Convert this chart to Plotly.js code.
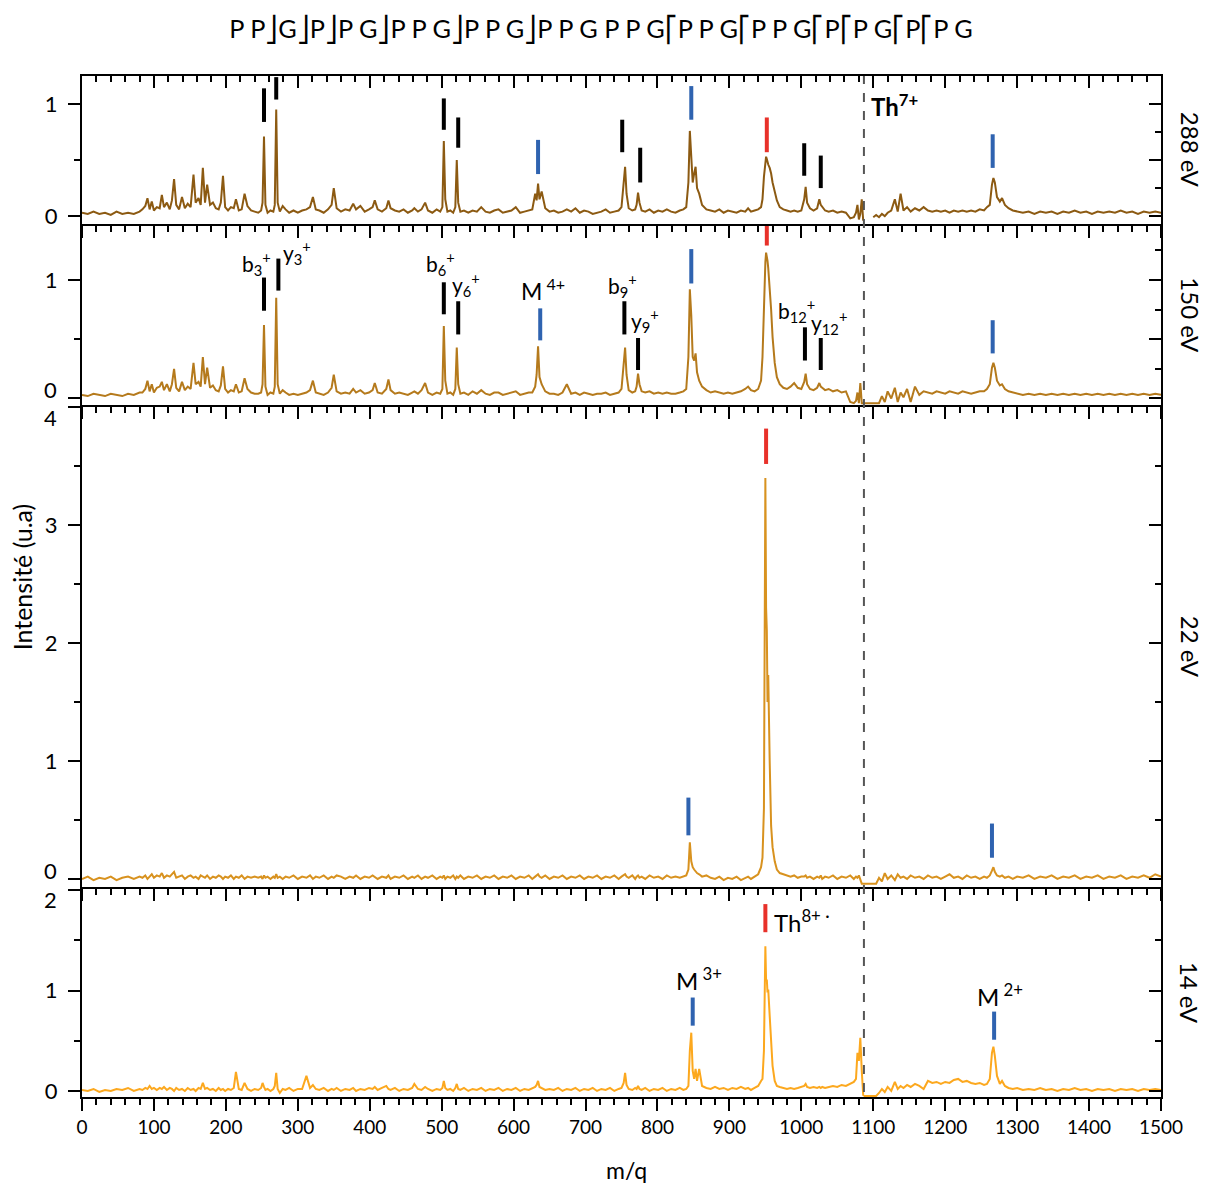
<!DOCTYPE html>
<html>
<head>
<meta charset="utf-8">
<script src="https://cdn.plot.ly/plotly-3.0.1.min.js"></script>
<style>html,body{margin:0;padding:0;background:#fff;}</style>
</head>
<body>
<div id="chart" style="width:1214px;height:1189px;"></div>
<script>
// ---------- DATA ----------
// m/q sampling positions (segments), shared by the four spectra
const mzSegments = [
 [0,8,16,24,32,40,48,56,64,72,80],
 [84,88,91,94,97,100,104,108,111,114,118,122,125,128,131,135,139,143,147,151,155,158,162,165,168,171,174,178,182,186,190,193,196,199,203,207,211,214,218,222,226,230,235,240],
 [245,249,251,253,255,258,262,266,268,270,272,275,279,283,288,294,300],
 [306,312,317,321,325,330,336,342,347,350,354,360,366,372,377,381,387,393,399,404,407,411,417,423,426,429,435,441,447,453,459,462,467,472,477,481,487,493,498],
 [501,503,505,508,512,516,519,521,523,526,531,537,543,549,555,561,567,573,579,585,591,597,603,609,615,621,626,630,632,634,636,639,644,650],
 [656,662,668,674,680,686,692,698,704,710,716,722,728,734,740,746,750,753,755,757,760,765,769,771,773,775,778,783,789,795,801,807,813,819,825,831,836,840],
 [843,845,847,849,851,853,855,858,862,868,874,880,886,892,898,904,910,916,922,926,930,935,940,944,946,948,950,951,952,953,954,956,958,960,963,966,970,975,980,985,990,995,1000],
 [1004,1006,1008,1012,1017,1022,1025,1027,1029,1033,1038,1044,1050,1056,1062,1068,1073,1076,1078,1080,1082,1084,1086,1088],
 [1092,1096,1100,1104,1108,1112,1116,1120,1125,1130,1134,1138,1142,1147,1152,1158,1164,1170,1176,1182,1188,1194,1200,1206,1212,1218,1224,1230,1236,1242,1248],
 [1254,1258,1262,1265,1267,1269,1272,1276,1279,1283,1288,1294,1300,1308,1316,1324,1332,1340,1348,1356,1364,1372,1380,1388,1396,1404,1412,1420,1428,1436,1444,1452,1460,1468,1476,1484,1492,1500]
];

// Intensities, 288 eV
const int288 = [
 [0.03,0.02,0.04,0.02,0.03,0.01,0.04,0.02,0.03,0.02,0.04],
 [0.06,0.09,0.16,0.06,0.13,0.05,0.08,0.07,0.19,0.08, 0.12,0.06,0.14,0.33,0.10,0.06,0.17,0.07,0.11,0.08, 0.37,0.12,0.16,0.10,0.43,0.12,0.28,0.10,0.12,0.07, 0.06,0.12,0.36,0.08,0.05,0.08,0.07,0.15,0.05,0.06, 0.20,0.09,0.05,0.04],
 [0.03,0.05,0.12,0.71,0.10,0.03,0.05,0.04,0.10,0.95, 0.12,0.04,0.09,0.06,0.03,0.05,0.03],
 [0.05,0.06,0.08,0.17,0.06,0.05,0.03,0.06,0.10,0.25, 0.07,0.04,0.06,0.05,0.11,0.06,0.09,0.04,0.06,0.08, 0.14,0.06,0.04,0.07,0.14,0.07,0.05,0.04,0.06,0.03, 0.05,0.07,0.04,0.06,0.12,0.05,0.03,0.06,0.04],
 [0.08,0.67,0.15,0.04,0.05,0.03,0.08,0.50,0.12,0.04, 0.05,0.03,0.05,0.04,0.08,0.04,0.03,0.05,0.06,0.03, 0.04,0.05,0.08,0.03,0.04,0.05,0.06,0.20,0.14,0.29, 0.15,0.22,0.07,0.04],
 [0.05,0.03,0.04,0.06,0.04,0.07,0.03,0.05,0.04,0.02, 0.03,0.04,0.06,0.03,0.04,0.05,0.08,0.30,0.44,0.20, 0.07,0.05,0.06,0.10,0.21,0.12,0.05,0.04,0.06,0.03, 0.05,0.04,0.06,0.04,0.03,0.05,0.06,0.08],
 [0.30,0.76,0.55,0.30,0.38,0.44,0.25,0.20,0.10,0.06, 0.05,0.04,0.06,0.03,0.05,0.04,0.03,0.05,0.04,0.07, 0.04,0.05,0.06,0.08,0.15,0.35,0.50,0.53,0.51,0.48, 0.46,0.43,0.38,0.30,0.22,0.14,0.08,0.06,0.05,0.04, 0.05,0.04,0.05],
 [0.15,0.26,0.12,0.07,0.05,0.07,0.15,0.10,0.08,0.05, 0.04,0.05,0.03,0.04,0.03,-0.02,-0.01,0.03,0.10,-0.03, 0.02,0.15,-0.04,null],
 [null,null,-0.01,0.01,-0.01,0.02,0.00,0.03,0.05,0.15, 0.04,0.20,0.05,0.08,0.04,0.07,0.05,0.08,0.05,0.04, 0.05,0.04,0.05,0.03,0.05,0.04,0.05,0.04,0.05,0.04, 0.06],
 [0.05,0.08,0.10,0.28,0.34,0.30,0.17,0.13,0.16,0.10, 0.07,0.05,0.04,0.03,0.04,0.02,0.04,0.03,0.04,0.02, 0.04,0.03,0.05,0.03,0.04,0.02,0.04,0.03,0.04,0.03, 0.05,0.03,0.04,0.02,0.04,0.03,0.04,0.03]
];

// Intensities, 150 eV
const int150 = [
 [0.03,0.02,0.04,0.03,0.02,0.04,0.03,0.02,0.04,0.03,0.05],
 [0.05,0.08,0.15,0.06,0.12,0.05,0.09,0.10,0.14,0.07, 0.12,0.06,0.12,0.25,0.09,0.06,0.14,0.07,0.10,0.08, 0.30,0.12,0.14,0.10,0.35,0.12,0.26,0.09,0.11,0.07, 0.06,0.11,0.27,0.08,0.05,0.07,0.06,0.12,0.05,0.06, 0.17,0.08,0.05,0.04],
 [0.04,0.05,0.12,0.62,0.10,0.03,0.05,0.04,0.10,0.85, 0.12,0.04,0.07,0.05,0.03,0.04,0.03],
 [0.04,0.05,0.07,0.15,0.05,0.04,0.03,0.05,0.09,0.20, 0.06,0.04,0.05,0.04,0.08,0.05,0.07,0.04,0.05,0.07, 0.13,0.05,0.04,0.08,0.16,0.07,0.04,0.05,0.04,0.03, 0.05,0.06,0.04,0.07,0.13,0.05,0.03,0.05,0.04],
 [0.08,0.61,0.15,0.04,0.05,0.03,0.08,0.43,0.12,0.04, 0.05,0.03,0.06,0.04,0.07,0.04,0.03,0.05,0.05,0.03, 0.04,0.05,0.06,0.03,0.04,0.05,0.05,0.10,0.20,0.44, 0.18,0.12,0.06,0.04],
 [0.04,0.03,0.05,0.12,0.04,0.05,0.03,0.05,0.04,0.03, 0.04,0.04,0.05,0.03,0.04,0.05,0.08,0.30,0.43,0.20, 0.07,0.05,0.06,0.10,0.21,0.12,0.06,0.05,0.06,0.04, 0.05,0.04,0.05,0.04,0.04,0.05,0.06,0.08],
 [0.35,0.92,0.70,0.35,0.32,0.38,0.22,0.15,0.10,0.07, 0.05,0.06,0.05,0.04,0.05,0.04,0.05,0.06,0.08,0.10, 0.07,0.06,0.08,0.15,0.35,0.80,1.15,1.23,1.20,1.16, 1.10,0.95,0.75,0.52,0.30,0.18,0.12,0.09,0.08,0.10, 0.13,0.09,0.08],
 [0.14,0.21,0.12,0.08,0.07,0.09,0.13,0.10,0.09,0.07, 0.08,0.06,0.07,0.05,0.06,-0.03,-0.04,-0.02,0.05,-0.04, 0.13,-0.04,-0.04,-0.04],
 [-0.04,-0.04,-0.04,-0.04,-0.04,0.02,-0.03,0.06,0.00,0.09, -0.03,0.05,0.01,0.08,-0.03,0.10,0.03,0.06,0.05,0.04, 0.06,0.05,0.04,0.06,0.05,0.04,0.06,0.05,0.04,0.05, 0.06],
 [0.06,0.08,0.12,0.26,0.30,0.26,0.15,0.11,0.12,0.08, 0.06,0.05,0.04,0.03,0.04,0.03,0.04,0.03,0.04,0.03, 0.04,0.03,0.04,0.03,0.04,0.03,0.04,0.03,0.04,0.03, 0.04,0.03,0.04,0.03,0.04,0.03,0.04,0.03]
];

// Intensities, 22 eV
const int22 = [
 [0.00,0.02,-0.01,0.01,0.00,0.02,-0.01,0.01,0.02,0.00,0.02],
 [0.01,0.03,0.00,0.02,0.04,0.01,0.03,0.02,0.05,0.01, 0.03,0.02,0.04,0.06,0.01,0.02,0.03,0.00,0.02,0.03, 0.01,0.02,0.00,0.03,0.02,0.01,0.03,0.00,0.02,0.01, 0.03,0.02,0.00,0.02,0.01,0.03,0.00,0.02,0.01,0.03, 0.00,0.02,0.01,0.02],
 [0.01,0.02,0.00,0.03,0.01,0.02,0.00,0.02,0.01,0.04, 0.01,0.02,0.00,0.02,0.01,0.03,0.00],
 [0.02,0.01,0.03,0.00,0.02,0.01,0.03,0.00,0.02,0.01, 0.03,0.02,0.00,0.02,0.01,0.03,0.00,0.02,0.01,0.03, 0.02,0.00,0.02,0.01,0.03,0.00,0.02,0.01,0.03,0.00, 0.02,0.01,0.03,0.00,0.02,0.01,0.03,0.00,0.02],
 [0.01,0.03,0.00,0.02,0.01,0.03,0.00,0.02,0.01,0.03, 0.00,0.02,0.01,0.03,0.00,0.02,0.01,0.03,0.00,0.02, 0.01,0.03,0.00,0.02,0.01,0.03,0.00,0.02,0.03,0.04, 0.02,0.01,0.03,0.00],
 [0.02,0.01,0.03,0.00,0.02,0.01,0.03,0.00,0.02,0.01, 0.03,0.00,0.02,0.01,0.03,0.00,0.02,0.03,0.04,0.02, 0.01,0.03,0.00,0.02,0.03,0.01,0.02,0.00,0.03,0.01, 0.02,0.00,0.03,0.01,0.02,0.01,0.02,0.03],
 [0.08,0.31,0.15,0.10,0.08,0.06,0.05,0.04,0.02,0.03, 0.01,0.00,0.02,-0.01,0.01,0.00,0.02,-0.01,0.01,0.02, 0.00,0.02,0.04,0.10,0.18,0.60,3.40,2.30,2.11,1.50, 1.73,1.00,0.45,0.27,0.15,0.08,0.05,0.04,0.03,0.02, 0.03,0.01,0.02],
 [0.02,0.03,0.01,0.02,0.00,0.02,0.01,0.03,0.00,0.02, 0.01,0.03,0.00,0.02,0.01,0.03,0.00,0.02,0.01,0.03, 0.00,-0.04,-0.04,-0.04],
 [-0.04,-0.04,-0.04,-0.04,0.01,-0.02,0.05,0.00,0.03,-0.01, 0.04,0.01,0.02,0.00,0.03,0.01,0.02,0.00,0.03,0.01, 0.02,0.00,0.02,0.04,0.01,0.02,0.00,0.03,0.01,0.02, 0.00],
 [0.02,0.01,0.03,0.07,0.10,0.06,0.03,0.02,0.03,0.01, 0.02,0.00,0.02,0.01,0.03,0.00,0.02,0.01,0.03,0.00, 0.02,0.01,0.03,0.00,0.02,0.01,0.03,0.00,0.02,0.01, 0.03,0.00,0.02,0.01,0.03,0.01,0.04,0.02]
];

// Intensities, 14 eV
const int14 = [
 [0.01,0.00,0.02,-0.01,0.01,0.00,0.02,0.01,0.03,0.00,0.02],
 [0.01,0.03,0.02,0.05,0.02,0.03,0.01,0.03,0.02,0.04, 0.01,0.03,0.02,0.00,0.03,0.01,0.02,0.00,0.03,0.01, 0.02,0.00,0.03,0.02,0.08,0.02,0.03,0.01,0.02,0.00, 0.03,0.01,0.02,0.00,0.02,0.01,0.03,0.19,0.02,0.01, 0.08,0.02,0.00,0.02],
 [0.01,0.03,0.08,0.04,0.01,0.02,0.00,0.02,0.05,0.18, 0.02,-0.02,0.02,0.01,0.03,0.00,0.02],
 [0.02,0.15,0.03,0.06,0.02,0.01,0.03,0.00,0.02,0.01, 0.03,0.00,0.02,0.01,0.03,0.00,0.02,0.01,0.03,0.02, 0.04,0.01,0.03,0.05,0.02,0.01,0.03,0.00,0.02,0.01, 0.03,0.07,0.02,0.01,0.04,0.02,0.00,0.02,0.01],
 [0.03,0.10,0.03,0.01,0.02,0.00,0.03,0.07,0.02,0.01, 0.03,0.00,0.02,0.01,0.03,0.00,0.02,0.01,0.03,0.00, 0.02,0.01,0.03,0.00,0.02,0.01,0.03,0.04,0.06,0.10, 0.04,0.03,0.01,0.02],
 [0.01,0.03,0.00,0.02,0.01,0.03,0.00,0.02,0.01,0.03, 0.00,0.02,0.01,0.03,0.00,0.02,0.03,0.08,0.18,0.06, 0.02,0.01,0.03,0.02,0.05,0.02,0.01,0.03,0.00,0.02, 0.01,0.03,0.00,0.02,0.01,0.03,0.01,0.02],
 [0.05,0.40,0.58,0.20,0.12,0.22,0.10,0.22,0.05,0.03, 0.02,0.04,0.02,0.03,0.01,0.03,0.02,0.04,0.02,0.03, 0.01,0.03,0.05,0.10,0.12,0.40,1.44,1.10,1.11,0.98, 1.01,0.75,0.45,0.25,0.10,0.05,0.04,0.03,0.02,0.03, 0.02,0.03,0.04],
 [0.05,0.07,0.04,0.03,0.04,0.03,0.04,0.03,0.04,0.03, 0.04,0.05,0.04,0.06,0.05,0.07,0.09,0.12,0.38,0.30, 0.53,0.20,-0.04,-0.05],
 [-0.05,-0.05,-0.05,-0.05,-0.02,0.02,-0.01,0.04,0.00,0.09, 0.02,0.05,0.03,0.06,0.04,0.07,0.05,0.02,0.10,0.08, 0.09,0.07,0.09,0.08,0.11,0.12,0.09,0.10,0.08,0.07, 0.08],
 [0.06,0.07,0.12,0.38,0.44,0.35,0.15,0.07,0.10,0.05, 0.03,0.02,0.03,0.01,0.02,0.01,0.03,0.01,0.02,0.00, 0.02,0.01,0.03,0.01,0.02,0.00,0.02,0.01,0.02,0.00, 0.02,0.01,0.02,0.00,0.02,0.01,0.02,0.01]
];

// Assignment tick marks: position, lower end, upper end, kind
const barMz288   = [253,270,503,523,751,776,1004,1027,634,847,1266,952];
const barLo288   = [0.84,1.04,0.77,0.61,0.57,0.30,0.36,0.25,0.375,0.86,0.43,0.57];
const barHi288   = [1.14,1.24,1.05,0.88,0.86,0.61,0.65,0.54,0.68,1.16,0.73,0.88];
const barKind288 = ['frag','frag','frag','frag','frag','frag','frag','frag','M','M','M','Th'];

const barMz150   = [253,273,503,523,754,773,1005,1027,637,847,1266,952];
const barLo150   = [0.74,0.91,0.71,0.54,0.54,0.24,0.32,0.24,0.49,0.97,0.38,1.29];
const barHi150   = [1.02,1.18,0.98,0.82,0.82,0.51,0.60,0.51,0.76,1.26,0.66,1.47];
const barKind150 = ['frag','frag','frag','frag','frag','frag','frag','frag','M','M','M','Th'];

const barMz22   = [843,1265,951];
const barLo22   = [0.37,0.18,3.52];
const barHi22   = [0.69,0.47,3.82];
const barKind22 = ['M','M','Th'];

const barMz14   = [849,1268,950];
const barLo14   = [0.65,0.51,1.58];
const barHi14   = [0.93,0.79,1.86];
const barKind14 = ['M','M','Th'];

// Ion labels
const labelText150 = ['b<sub>3</sub><sup>+</sup>','y<sub>3</sub><sup>+</sup>','b<sub>6</sub><sup>+</sup>','y<sub>6</sub><sup>+</sup>','M<sup> 4+</sup>','b<sub>9</sub><sup>+</sup>','y<sub>9</sub><sup>+</sup>','b<sub>12</sub><sup>+</sup>','y<sub>12</sub><sup>+</sup>'];
const labelMz150   = [243,299,498,534,641,751,783,993,1039];
const labelY150    = [1.14,1.23,1.14,0.96,0.92,0.955,0.66,0.74,0.64];
const labelSize150 = [21,21,21,21,23,21,21,21,21];
const labelText288 = ['<b>Th<sup>7+</sup></b>'];
const labelMz288   = [1130];
const labelY288    = [0.99];
const labelText14  = ['M<sup> 3+</sup>','Th<sup>8+ ·</sup>','M<sup> 2+</sup>'];
const labelMz14    = [858,1001,1276];
const labelY14     = [1.11,1.69,0.96];

const energyLabels = ['288 eV','150 eV','22 eV','14 eV'];
const separatorMz = 1087;
const sequenceTitle = 'P P⎦G⎦P⎦P G⎦P P G⎦P P G⎦P P G P P G⎡P P G⎡P P G⎡P⎡P G⎡P⎡P G';

// ---------- BUILD ----------
const FONT = 'Lato, "Noto Sans", sans-serif';
const kindColor = {frag:'#000000', M:'#2f63b0', Th:'#e8312a'};

function flatten(segs){
  const x=[], y=[];
  for(let s=0;s<mzSegments.length;s++){
    const xs=mzSegments[s], ys=segs[s]||[];
    const n=Math.min(xs.length, ys.length);
    for(let i=0;i<n;i++){ x.push(xs[i]); y.push(ys[i]); }
  }
  return {x,y};
}

// edge tick labels moved inward: [value, pixel shift]
const panels = [
  {ints:int288, color:'#8c5a12', xa:'x',  ya:'y',  bars:[barMz288,barLo288,barHi288,barKind288], range:[-0.07,1.25],  dom:[0.8551,1.0],   rdt:0.5, rmin:0.25, hide:{}, edge:[]},
  {ints:int150, color:'#b57a1c', xa:'x2', ya:'y2', bars:[barMz150,barLo150,barHi150,barKind150], range:[-0.055,1.455], dom:[0.6778,0.8531], rdt:0.5, rmin:0.25, hide:{'0':''}, edge:[[0,9]]},
  {ints:int22,  color:'#d8921f', xa:'x3', ya:'y3', bars:[barMz22,barLo22,barHi22,barKind22],     range:[-0.068,4.003], dom:[0.2057,0.6758], rdt:1, rmin:0.5, hide:{'0':'','4':''}, edge:[[0,8],[4,-10]]},
  {ints:int14,  color:'#fca81e', xa:'x4', ya:'y4', bars:[barMz14,barLo14,barHi14,barKind14],     range:[-0.06,2.01],   dom:[0.0,0.2037],   rdt:1, rmin:0.5, hide:{'2':''}, edge:[[2,-9]]}
];

const traces = [];
const layout = {
  width:1214, height:1189,
  margin:{l:82, r:53, t:76, b:92},
  paper_bgcolor:'#ffffff', plot_bgcolor:'#ffffff',
  showlegend:false,
  font:{family:FONT, color:'#000000', size:20},
  title:{text:sequenceTitle, font:{family:FONT, size:25.3, color:'#000'}, xref:'paper', x:0.481, xanchor:'center', yref:'container', y:1-29/1189, yanchor:'middle'},
  annotations:[], shapes:[]
};

panels.forEach((p,i)=>{
  const n = i+1;
  const d = flatten(p.ints);
  traces.push({type:'scatter', mode:'lines', x:d.x, y:d.y, xaxis:p.xa, yaxis:p.ya,
    line:{color:p.color, width:2}, hoverinfo:'skip', connectgaps:false});
  const [bm,bl,bh,bk] = p.bars;
  Object.keys(kindColor).forEach(k=>{
    const bx=[], by=[];
    for(let j=0;j<bm.length;j++){ if(bk[j]===k){ bx.push(bm[j],bm[j],null); by.push(bl[j],bh[j],null);} }
    if(bx.length) traces.push({type:'scatter', mode:'lines', x:bx, y:by, xaxis:p.xa, yaxis:p.ya,
      line:{color:kindColor[k], width:4}, hoverinfo:'skip'});
  });
  const xName = n===1?'xaxis':'xaxis'+n;
  const yName = n===1?'yaxis':'yaxis'+n;
  layout[xName] = {domain:[0,1], anchor:p.ya, range:[0,1500], showgrid:false, zeroline:false,
    showline:true, linecolor:'#000', linewidth:2, mirror:true,
    ticks:'outside', ticklen:12, tickwidth:2, tickcolor:'#000', tick0:0, dtick:100,
    minor:{dtick:20, ticklen:6, tickwidth:2, tickcolor:'#000', ticks:'outside'},
    showticklabels:(n===4), tickfont:{size:19, family:FONT}};
  layout[yName] = {domain:p.dom, anchor:p.xa, range:p.range, showgrid:false, zeroline:false,
    showline:true, linecolor:'#000', linewidth:2, mirror:true,
    ticks:'outside', ticklen:12, tickwidth:2, tickcolor:'#000', tick0:0, dtick:1,
    minor:{dtick:0.5, ticklen:6, tickwidth:2, tickcolor:'#000', ticks:'outside'},
    labelalias:p.hide, ticklabelstandoff:6,
    tickfont:{size:22, family:FONT}};
  p.edge.forEach(([v,shift])=>{
    layout.annotations.push({text:String(v), xref:'paper', yref:p.ya, x:0, y:v, xanchor:'right', yanchor:'middle',
      xshift:-23, yshift:shift, showarrow:false, font:{size:22, family:FONT}});
  });
  const rName = 'yaxis'+(4+n);
  layout[rName] = {overlaying:p.ya, side:'right', anchor:p.xa, range:p.range, showgrid:false, zeroline:false,
    showline:false, ticks:'inside', ticklen:12, tickwidth:2, tickcolor:'#000', tick0:0, dtick:p.rdt,
    minor:{dtick:p.rmin, ticklen:6, tickwidth:2, tickcolor:'#000', ticks:'inside'},
    showticklabels:false};
  traces.push({type:'scatter', mode:'lines', x:[null], y:[null], xaxis:p.xa, yaxis:'y'+(4+n), hoverinfo:'skip'});
  layout.annotations.push({text:energyLabels[i], xref:'paper', yref:'paper', x:1.027, y:(p.dom[0]+p.dom[1])/2,
    xanchor:'center', yanchor:'middle', textangle:90, showarrow:false, font:{size:24, family:FONT}});
});

layout.xaxis9 = {overlaying:'x', side:'top', anchor:'y', range:[0,1500], showgrid:false, zeroline:false, showline:false,
  ticks:'inside', ticklen:12, tickwidth:2, tickcolor:'#000', tick0:0, dtick:100,
  minor:{dtick:20, ticklen:6, tickwidth:2, tickcolor:'#000', ticks:'inside'}, showticklabels:false};
traces.push({type:'scatter', mode:'lines', x:[null], y:[null], xaxis:'x9', yaxis:'y', hoverinfo:'skip'});

function addLabels(texts, mzs, ys, xa, ya, sizes){
  for(let j=0;j<texts.length;j++){
    layout.annotations.push({text:texts[j], x:mzs[j], y:ys[j], xref:xa, yref:ya, showarrow:false,
      xanchor:'center', yanchor:'middle', font:{size:Array.isArray(sizes)?sizes[j]:sizes, family:FONT, color:'#000'}});
  }
}
addLabels(labelText150, labelMz150, labelY150, 'x2', 'y2', labelSize150);
addLabels(labelText288, labelMz288, labelY288, 'x', 'y', 24);
addLabels(labelText14, labelMz14, labelY14, 'x4', 'y4', 24);

layout.annotations.push({text:'Intensité (u.a)', xref:'paper', yref:'paper', x:-0.0556, y:0.509, textangle:-90,
  showarrow:false, xanchor:'center', yanchor:'middle', font:{size:25, family:FONT}});
layout.annotations.push({text:'m/q', xref:'paper', yref:'paper', x:0.505, y:-0.0715, showarrow:false,
  xanchor:'center', yanchor:'middle', font:{size:23, family:FONT}});

layout.shapes.push({type:'line', xref:'x4', yref:'paper', x0:separatorMz, x1:separatorMz, y0:0.005, y1:1,
  line:{color:'#555555', width:2, dash:'dash'}});

Plotly.newPlot('chart', traces, layout, {displayModeBar:false, staticPlot:true});
</script>
</body>
</html>
